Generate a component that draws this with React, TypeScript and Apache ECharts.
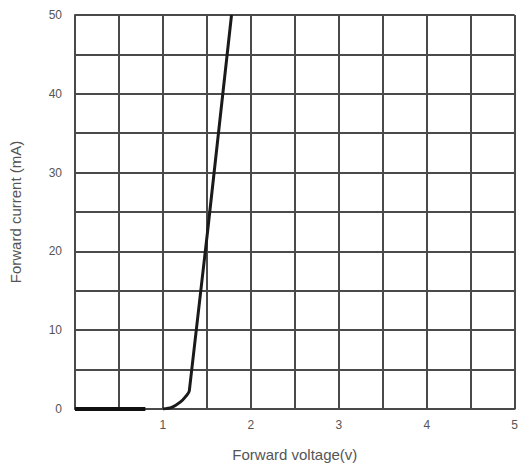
import React, { useEffect, useRef } from "react";
import * as echarts from "echarts";

const offStateV = [0, 0.8];
const offStateI = [0, 0];
const curveV = [1.0, 1.1, 1.2, 1.26, 1.3, 1.78];
const curveI = [0, 0.2, 0.9, 1.6, 2.3, 50];
const xTickLabels = ["1", "2", "3", "4", "5"];
const yTickLabels = ["0", "10", "20", "30", "40", "50"];

export default function App() {
  const ref = useRef<HTMLDivElement>(null);
  useEffect(() => {
    const chart = echarts.init(ref.current!, null, { renderer: "svg" });
    const gridColor = "#4a4a4a";
    chart.setOption({
      animation: false,
      backgroundColor: "#ffffff",
      grid: { left: 73, right: 3, top: 15, bottom: 59, show: false },
      xAxis: {
        type: "value",
        min: 0,
        max: 5,
        interval: 0.5,
        name: "Forward voltage(v)",
        nameLocation: "middle",
        nameGap: 38,
        nameTextStyle: { fontSize: 15, color: "#555", fontFamily: "Liberation Sans" },
        axisLine: { show: true, lineStyle: { color: gridColor, width: 2 } },
        axisTick: { show: false },
        axisLabel: {
          color: "#555",
          fontSize: 12,
          fontFamily: "Liberation Sans",
          margin: 10,
          formatter: (v: number) => (xTickLabels.includes(String(v)) ? String(v) : ""),
        },
        splitLine: { show: true, lineStyle: { color: gridColor, width: 2 } },
      },
      yAxis: {
        type: "value",
        min: 0,
        max: 50,
        interval: 5,
        name: "Forward current (mA)",
        nameLocation: "middle",
        nameGap: 52,
        nameTextStyle: { fontSize: 15, color: "#555", fontFamily: "Liberation Sans" },
        axisLine: { show: true, lineStyle: { color: gridColor, width: 2 } },
        axisTick: { show: false },
        axisLabel: {
          color: "#555",
          fontSize: 12,
          fontFamily: "Liberation Sans",
          margin: 13,
          formatter: (v: number) => (yTickLabels.includes(String(v)) ? String(v) : ""),
        },
        splitLine: { show: true, lineStyle: { color: gridColor, width: 2 } },
      },
      series: [
        {
          type: "line",
          data: offStateV.map((v, i) => [v, offStateI[i]]),
          symbol: "none",
          lineStyle: { color: "#111", width: 4 },
        },
        {
          type: "line",
          data: curveV.map((v, i) => [v, curveI[i]]),
          symbol: "none",
          smooth: 0.3,
          lineStyle: { color: "#1a1a1a", width: 3 },
        },
      ],
    });
    return () => chart.dispose();
  }, []);
  return (
    <div
      ref={ref}
      style={{ position: "fixed", left: 0, top: 0, width: 521, height: 468 }}
    />
  );
}
